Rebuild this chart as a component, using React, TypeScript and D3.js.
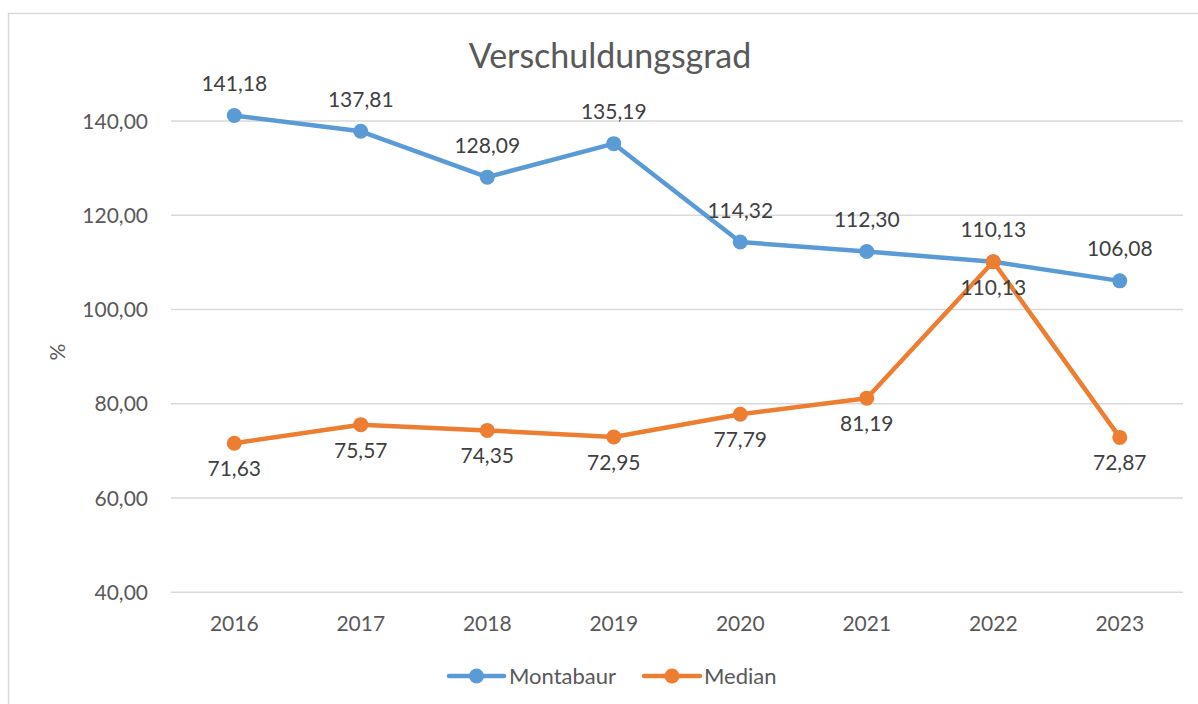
import React from "react";
import * as d3 from "d3";

const years = ["2016", "2017", "2018", "2019", "2020", "2021", "2022", "2023"];
const montabaur = [141.18, 137.81, 128.09, 135.19, 114.32, 112.3, 110.13, 106.08];
const median = [71.63, 75.57, 74.35, 72.95, 77.79, 81.19, 110.13, 72.87];
const yTicks = [40, 60, 80, 100, 120, 140];
const seriesNames = ["Montabaur", "Median"];

const BLUE = "#5B9BD5";
const ORANGE = "#ED7D31";
const FONT = "Lato, 'Open Sans', sans-serif";

export default function App() {
  const x = d3.scaleBand<string>().domain(years).range([171, 1183]);
  const y = d3.scaleLinear().domain([40, 140]).range([592.3, 121]);
  const cx = (d: string) => (x(d) as number) + x.bandwidth() / 2;
  const fmt = (v: number) => v.toFixed(2).replace(".", ",");
  const line = d3
    .line<number>()
    .x((_, i) => cx(years[i]))
    .y((v) => y(v));

  const series = [
    { name: seriesNames[0], values: montabaur, color: BLUE, dy: -24.5 },
    { name: seriesNames[1], values: median, color: ORANGE, dy: 33 },
  ];

  const legend = [
    { name: seriesNames[0], color: BLUE, x1: 449, x2: 504, tx: 509 },
    { name: seriesNames[1], color: ORANGE, x1: 644, x2: 700, tx: 704 },
  ];

  return (
    <svg
      width={1198}
      height={704}
      style={{ position: "absolute", left: 0, top: 0, display: "block", background: "#fff" }}
      fontFamily={FONT}
    >
      <rect x={0} y={0} width={1198} height={704} fill="#fff" />
      <rect x={8.5} y={13.5} width={1195} height={720} fill="#fff" stroke="#D9D9D9" strokeWidth={1.5} />
      <text x={610} y={68} textAnchor="middle" fontSize={34} fill="#595959">
        Verschuldungsgrad
      </text>
      {yTicks.map((t) => (
        <g key={t}>
          <line x1={171} x2={1183} y1={y(t)} y2={y(t)} stroke="#D9D9D9" strokeWidth={1.5} />
          <text x={148} y={y(t) + 7.5} textAnchor="end" fontSize={21} fill="#595959">
            {fmt(t)}
          </text>
        </g>
      ))}
      {years.map((yr) => (
        <text key={yr} x={cx(yr)} y={631} textAnchor="middle" fontSize={21} fill="#595959">
          {yr}
        </text>
      ))}
      <text
        transform="translate(65,352) rotate(-90)"
        textAnchor="middle"
        fontSize={21}
        fill="#595959"
      >
        %
      </text>
      {series.map((s) => (
        <g key={s.name}>
          <path
            d={line(s.values) || ""}
            fill="none"
            stroke={s.color}
            strokeWidth={4.5}
            strokeLinejoin="round"
            strokeLinecap="round"
          />
          {s.values.map((v, i) => (
            <circle key={i} cx={cx(years[i])} cy={y(v)} r={7.5} fill={s.color} />
          ))}
        </g>
      ))}
      {series.map((s) => (
        <g key={s.name + "l"}>
          {s.values.map((v, i) => (
            <text
              key={i}
              x={cx(years[i])}
              y={y(v) + s.dy}
              textAnchor="middle"
              fontSize={21}
              fill="#404040"
            >
              {fmt(v)}
            </text>
          ))}
        </g>
      ))}
      {legend.map((l) => (
        <g key={l.name}>
          <line x1={l.x1} x2={l.x2} y1={676} y2={676} stroke={l.color} strokeWidth={4.5} strokeLinecap="round" />
          <circle cx={(l.x1 + l.x2) / 2} cy={676} r={7.5} fill={l.color} />
          <text x={l.tx} y={684} fontSize={22} fill="#595959">
            {l.name}
          </text>
        </g>
      ))}
    </svg>
  );
}
